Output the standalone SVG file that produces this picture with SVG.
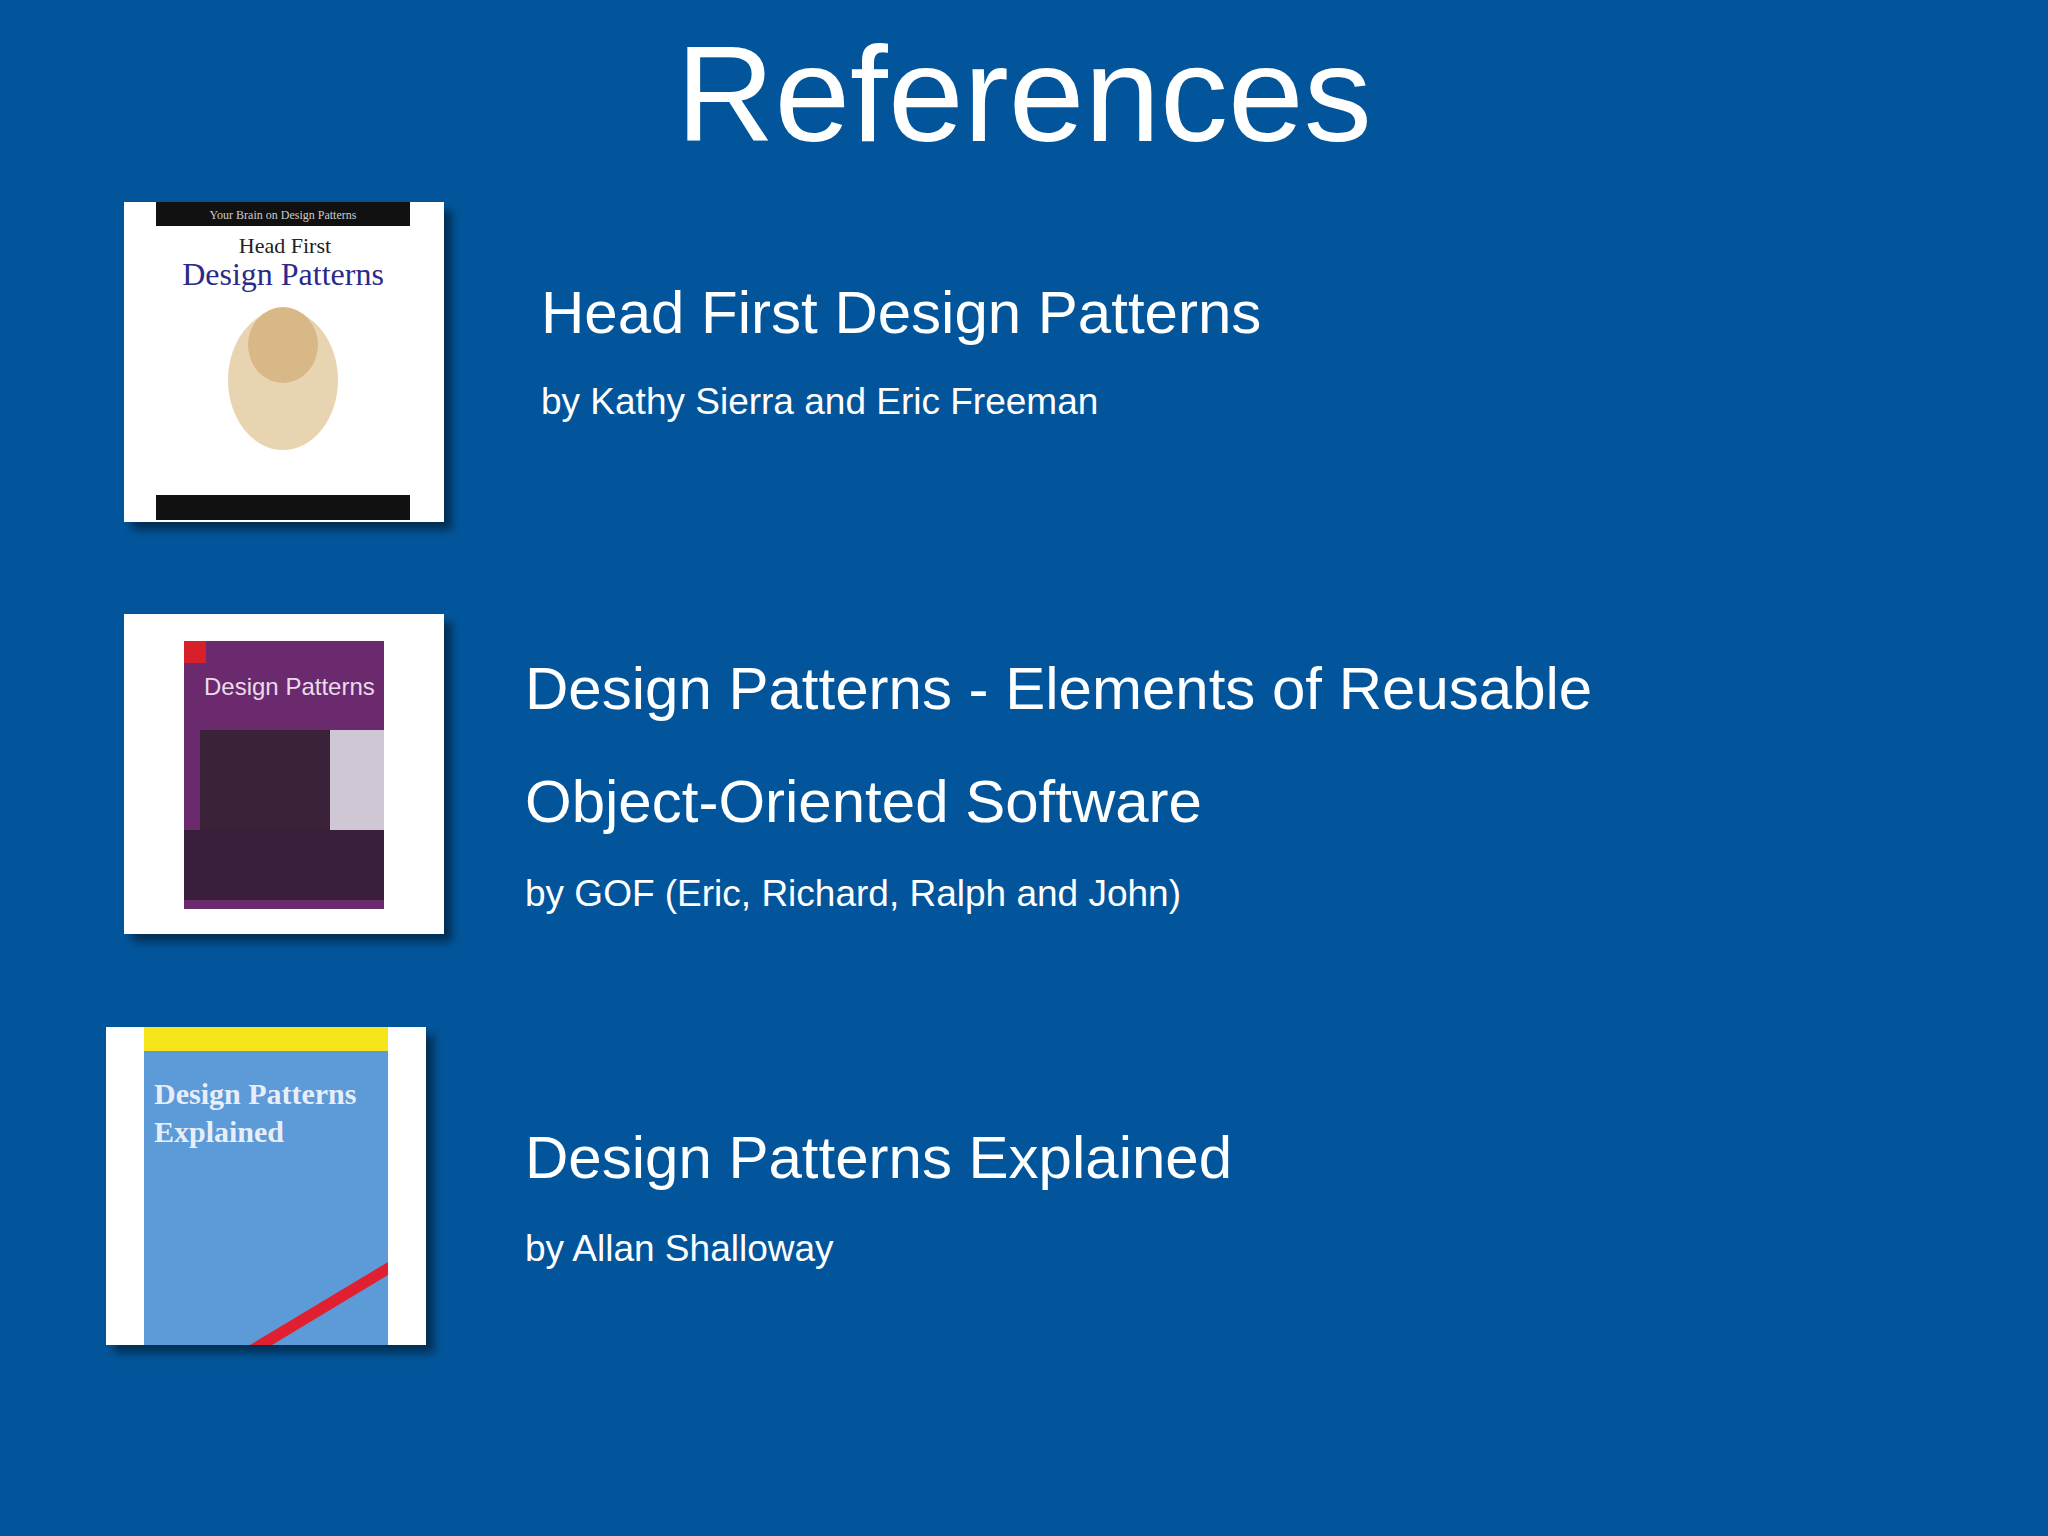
<svg xmlns="http://www.w3.org/2000/svg" width="2048" height="1536" viewBox="0 0 2048 1536">
<defs>
<style>
.t{font-family:"Liberation Sans",Arial,sans-serif;fill:#fff}
.h{font-size:60px}
.s{font-size:37px}
</style>
<filter id="sh" x="-10%" y="-10%" width="130%" height="130%"><feDropShadow dx="8" dy="8" stdDeviation="4" flood-color="#000" flood-opacity="0.45"/></filter>
</defs>
<rect width="2048" height="1536" fill="#02559a"/>
<text class="t" x="1024" y="141" font-size="136" text-anchor="middle">References</text>
<g id="book1">
<rect x="124" y="202" width="320" height="320" fill="#fff" filter="url(#sh)"/>
<rect x="156" y="202" width="254" height="24" fill="#111"/>
<text x="283" y="219" font-family="Liberation Serif,serif" font-size="12" fill="#ccc" text-anchor="middle">Your Brain on Design Patterns</text>
<text x="285" y="253" font-family="Liberation Serif,serif" font-size="22" fill="#222" text-anchor="middle">Head First</text>
<text x="283" y="285" font-family="Liberation Serif,serif" font-size="32" fill="#2a2a8a" text-anchor="middle">Design Patterns</text>
<ellipse cx="283" cy="380" rx="55" ry="70" fill="#e8d4b0"/>
<ellipse cx="283" cy="345" rx="35" ry="38" fill="#d9b888"/>
<rect x="156" y="495" width="254" height="25" fill="#111"/>
</g>
<g id="book2">
<rect x="124" y="614" width="320" height="320" fill="#fff" filter="url(#sh)"/>
<rect x="184" y="641" width="200" height="268" fill="#6b2a6e"/>
<rect x="184" y="641" width="22" height="22" fill="#d8202a"/>
<rect x="200" y="730" width="184" height="100" fill="#3a2238"/>
<rect x="330" y="730" width="54" height="100" fill="#cfc8d4"/>
<rect x="184" y="830" width="200" height="70" fill="#3a1f3c"/>
<text x="204" y="695" font-family="Liberation Sans,sans-serif" font-size="24" fill="#e8dcea">Design Patterns</text>
</g>
<g id="book3">
<rect x="106" y="1027" width="320" height="318" fill="#fff" filter="url(#sh)"/>
<rect x="144" y="1027" width="244" height="318" fill="#5d9ad8"/>
<rect x="144" y="1027" width="244" height="24" fill="#f5e51a"/>
<polygon points="250,1345 388,1262 388,1275 272,1345" fill="#e02030"/>
<text x="154" y="1104" font-family="Liberation Serif,serif" font-weight="bold" font-size="30" fill="#e8eef8">Design Patterns</text>
<text x="154" y="1142" font-family="Liberation Serif,serif" font-weight="bold" font-size="30" fill="#e8eef8">Explained</text>
</g>
<g id="texts">
<text class="t h" x="541" y="333">Head First Design Patterns</text>
<text class="t s" x="541" y="414">by Kathy Sierra and Eric Freeman</text>
<text class="t h" x="525" y="709">Design Patterns - Elements of Reusable</text>
<text class="t h" x="525" y="822">Object-Oriented Software</text>
<text class="t s" x="525" y="906">by GOF (Eric, Richard, Ralph and John)</text>
<text class="t h" x="525" y="1178">Design Patterns Explained</text>
<text class="t s" x="525" y="1261">by Allan Shalloway</text>
</g>
<g id="connectors"/>
</svg>
